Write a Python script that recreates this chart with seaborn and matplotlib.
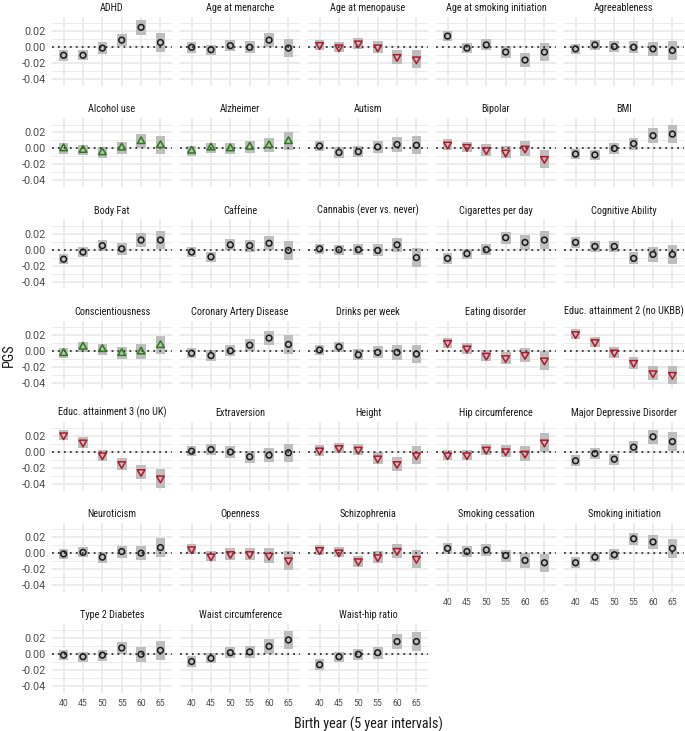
import numpy as np
import pandas as pd
import matplotlib
matplotlib.use("Agg")
import matplotlib.pyplot as plt
from matplotlib import font_manager as fm
import seaborn as sns

# ---------------- data ----------------
years = ["40", "45", "50", "55", "60", "65"]

traits = [
    "ADHD", "Age at menarche", "Age at menopause", "Age at smoking initiation", "Agreeableness",
    "Alcohol use", "Alzheimer", "Autism", "Bipolar", "BMI",
    "Body Fat", "Caffeine", "Cannabis (ever vs. never)", "Cigarettes per day", "Cognitive Ability",
    "Conscientiousness", "Coronary Artery Disease", "Drinks per week", "Eating disorder", "Educ. attainment 2 (no UKBB)",
    "Educ. attainment 3 (no UK)", "Extraversion", "Height", "Hip circumference", "Major Depressive Disorder",
    "Neuroticism", "Openness", "Schizophrenia", "Smoking cessation", "Smoking initiation",
    "Type 2 Diabetes", "Waist circumference", "Waist-hip ratio",
]

# mean PGS per birth-year group, one list per group (trait order as above)
pgs_40 = [-0.010, 0.000, 0.003, 0.014, -0.002, 0.000, -0.003, 0.003, 0.005, -0.007,
          -0.012, -0.003, 0.001, -0.011, 0.009, -0.003, -0.003, 0.001, 0.010, 0.021,
          0.021, 0.001, 0.002, -0.004, -0.011, -0.001, 0.005, 0.004, 0.006, -0.012,
          -0.001, -0.009, -0.013]
pgs_45 = [-0.010, -0.003, 0.000, -0.001, 0.003, -0.002, 0.001, -0.005, 0.002, -0.008,
          -0.003, -0.009, 0.000, -0.005, 0.004, 0.005, -0.006, 0.005, 0.003, 0.011,
          0.012, 0.003, 0.005, -0.004, -0.002, 0.001, -0.004, 0.001, 0.002, -0.005,
          -0.003, -0.005, -0.003]
pgs_50 = [-0.001, 0.002, 0.005, 0.003, 0.001, -0.005, 0.000, -0.004, -0.002, 0.000,
          0.005, 0.006, 0.000, 0.000, 0.004, 0.002, 0.000, -0.005, -0.006, -0.002,
          -0.004, 0.000, 0.003, 0.003, -0.009, -0.005, -0.001, -0.010, 0.004, -0.002,
          -0.001, 0.002, 0.000]
pgs_55 = [0.009, 0.000, 0.000, -0.006, 0.000, 0.001, 0.002, 0.002, -0.005, 0.006,
          0.001, 0.005, -0.001, 0.015, -0.011, -0.003, 0.007, -0.002, -0.009, -0.015,
          -0.015, -0.006, -0.008, 0.001, 0.006, 0.002, -0.001, -0.005, -0.003, 0.018,
          0.008, 0.003, 0.002]
pgs_60 = [0.025, 0.009, -0.012, -0.016, -0.002, 0.009, 0.004, 0.005, 0.000, 0.016,
          0.012, 0.008, 0.006, 0.009, -0.006, -0.001, 0.016, -0.002, -0.005, -0.028,
          -0.025, -0.004, -0.015, -0.002, 0.019, 0.000, -0.003, 0.003, -0.009, 0.014,
          0.000, 0.010, 0.016]
pgs_65 = [0.006, -0.001, -0.015, -0.006, -0.004, 0.004, 0.009, 0.004, -0.013, 0.018,
          0.012, -0.001, -0.010, 0.012, -0.006, 0.007, 0.008, -0.004, -0.012, -0.030,
          -0.033, -0.001, -0.004, 0.012, 0.013, 0.007, -0.009, -0.007, -0.012, 0.006,
          0.005, 0.018, 0.016]

# half-width of the interval for each birth-year group
ci_half = [0.0066, 0.0064, 0.0070, 0.0075, 0.0090, 0.0115]

# trend direction (marker shape / colour)
trend_up = ["Alcohol use", "Alzheimer", "Conscientiousness"]
trend_down = ["Age at menopause", "Bipolar", "Eating disorder", "Educ. attainment 2 (no UKBB)",
              "Educ. attainment 3 (no UK)", "Height", "Hip circumference", "Openness", "Schizophrenia"]

# ---------------- tidy table ----------------
cols = [pgs_40, pgs_45, pgs_50, pgs_55, pgs_60, pgs_65]
rows = []
for ti, t in enumerate(traits):
    trend = "up" if t in trend_up else ("down" if t in trend_down else "none")
    for yi, y in enumerate(years):
        v = cols[yi][ti]
        rows.append(dict(trait=t, year=y, xi=yi, est=v,
                         lo=v - ci_half[yi], hi=v + ci_half[yi], trend=trend))
df = pd.DataFrame(rows)

# ---------------- fonts ----------------
sns.set_theme(style="white")
names = {f.name for f in fm.fontManager.ttflist}
if "Roboto Condensed" in names:
    title_font = "Roboto Condensed"
elif "Liberation Sans Narrow" in names:
    title_font = "Liberation Sans Narrow"
else:
    title_font = "Roboto"
tick_font = "Roboto" if "Roboto" in names else "DejaVu Sans"
plt.rcParams["font.family"] = [title_font, "DejaVu Sans"]
plt.rcParams["axes.unicode_minus"] = False

RED = "#B2182B"
GREEN = "#2A7A17"
BLACK = "#1A1A1A"
BOX = "#BEBEBE"
GRID = "#EBEBEB"

ymin = (df["lo"]).min()
ymax = (df["hi"]).max()
pad = 0.05 * (ymax - ymin)
ylim = (ymin - pad, ymax + pad)

yt_major = [-0.04, -0.02, 0.00, 0.02]
yt_labels = ["-0.04", "-0.02", "0.00", "0.02"]
yt_minor = [-0.03, -0.01, 0.01, 0.03]


def draw_panel(data, **kws):
    ax = plt.gca()
    ax.bar(data["xi"], data["hi"] - data["lo"], bottom=data["lo"], width=0.5,
           color=BOX, linewidth=0, zorder=2)
    ax.axhline(0, color="#333333", lw=1.3, ls=(0, (1, 2.3)), zorder=2.5)
    trend = data["trend"].iloc[0]
    if trend == "up":
        m, c, s = (3, 0, 0), GREEN, 40
    elif trend == "down":
        m, c, s = (3, 0, 180), RED, 40
    else:
        m, c, s = "o", BLACK, 17
    ax.scatter(data["xi"], data["est"], marker=m, s=s, facecolors="none",
               edgecolors=c, linewidths=1.1, zorder=3)


g = sns.FacetGrid(df, col="trait", col_order=traits, col_wrap=5,
                  sharex=True, sharey=True, height=1.0, aspect=1.0)
g.map_dataframe(draw_panel)
g.set_axis_labels("", "")

fig = g.figure
fig.set_size_inches(6.85, 7.31)
fig.set_dpi(100)

n = len(traits)
ncol = 5
for i, ax in enumerate(g.axes.flat):
    t = traits[i]
    ax.set_title(t, fontsize=7.4, color=BLACK, pad=4.2, family=title_font)
    ax.set_xlim(-0.6, 5.6)
    ax.set_ylim(*ylim)
    ax.set_xticks(range(len(years)))
    ax.set_xticklabels(years)
    ax.set_yticks(yt_major)
    ax.set_yticklabels(yt_labels)
    ax.set_yticks(yt_minor, minor=True)
    ax.grid(which="major", color=GRID, lw=1.3, zorder=0)
    ax.grid(which="minor", axis="y", color=GRID, lw=0.65, zorder=0)
    ax.set_axisbelow(True)
    for sp in ax.spines.values():
        sp.set_visible(False)
    bottom = i + ncol >= n
    left = i % ncol == 0
    ax.tick_params(axis="x", which="both", length=0, pad=4.5, labelbottom=bottom,
                   labelsize=6.2, labelcolor="#4D4D4D")
    ax.tick_params(axis="y", which="both", length=0, pad=4.5, labelleft=left,
                   labelsize=7.8, labelcolor="#4D4D4D")
    for lab in ax.get_xticklabels() + ax.get_yticklabels():
        lab.set_fontfamily(tick_font)

fig.subplots_adjust(left=52 / 685, right=684 / 685, top=1 - 17 / 731, bottom=1 - 693 / 731,
                    wspace=0.066, hspace=0.467)
fig.supxlabel("Birth year (5 year intervals)", x=(52 + 684) / 2 / 685, y=1 - 724 / 731,
              va="center", fontsize=10.2, color=BLACK, family=title_font)
fig.supylabel("PGS", x=9 / 685, y=1 - 355 / 731, va="center", ha="center",
              fontsize=10.2, color=BLACK, family=title_font)

fig.savefig("out.png", dpi=100, facecolor="white")
